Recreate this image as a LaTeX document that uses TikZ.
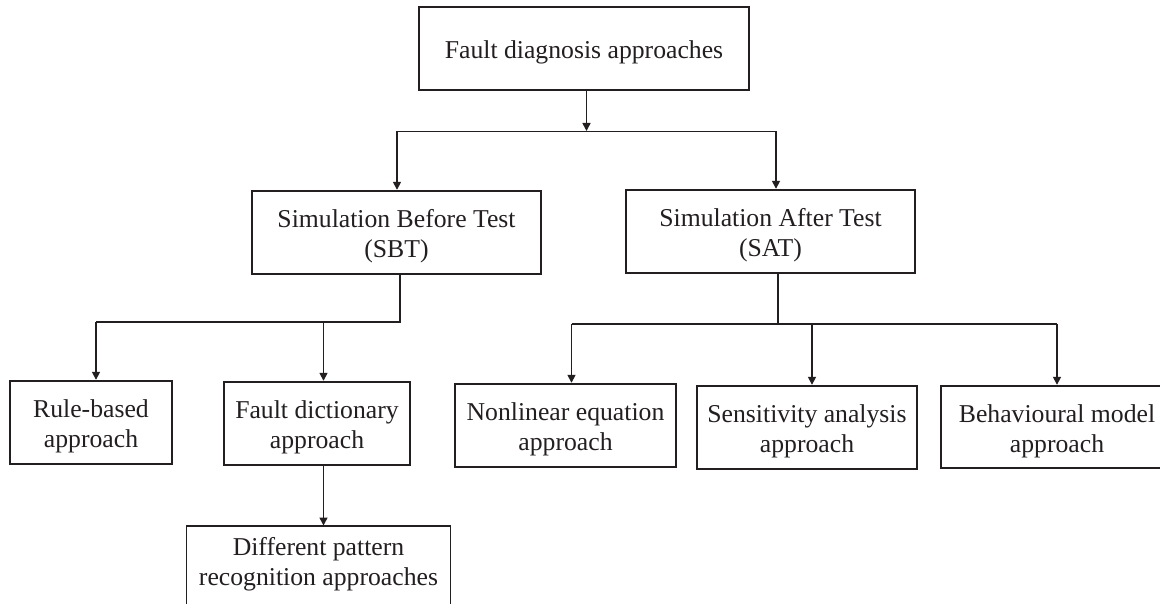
\documentclass[tikz,border=0pt]{standalone}
\usepackage{fontspec}
\setmainfont{Liberation Serif}
\usetikzlibrary{arrows.meta}
\definecolor{ink}{RGB}{35,31,32}
\newcommand{\boxtxt}[1]{\raisebox{-4pt}[\height][\depth]{\begin{tabular}{@{}c@{}}#1\end{tabular}}}
\begin{document}
\begin{tikzpicture}[x=1pt,y=-1pt,
  every node/.style={font=\fontsize{25.7}{30}\selectfont, text=ink},
  cbox/.style={draw=ink, line width=1.4pt, inner sep=0pt, align=center},
  conn/.style={draw=ink, line width=1.6pt},
  arr/.style={conn, -{Triangle[length=8pt,width=8pt]}, shorten >=0.5pt}]
\useasboundingbox (0,0) rectangle (1160,604);
\clip (0,0) rectangle (1160,604);
\fill[white] (0,0) rectangle (1160,604);
% boxes: centre x = (l+r)/2, y = (t+b)/2
\node[cbox, minimum width=330, minimum height=83] (top) at (584,48.5) {\boxtxt{Fault diagnosis approaches}};
\node[cbox, minimum width=289, minimum height=83] (sbt) at (396.5,232.5) {\boxtxt{Simulation Before Test\\(SBT)}};
\node[cbox, minimum width=289, minimum height=83] (sat) at (770.5,231.5) {\boxtxt{Simulation After Test\\(SAT)}};
\node[cbox, minimum width=162, minimum height=83] (rule) at (91,422.5) {\boxtxt{Rule-based\\approach}};
\node[cbox, minimum width=186, minimum height=83] (dict) at (317,423.5) {\boxtxt{Fault dictionary\\approach}};
\node[cbox, minimum width=221, minimum height=83] (nonlin) at (565.5,425.5) {\boxtxt{Nonlinear equation\\approach}};
\node[cbox, minimum width=220, minimum height=83] (sens) at (807,427.5) {\boxtxt{Sensitivity analysis\\approach}};
\node[cbox, minimum width=232, minimum height=82] (behav) at (1057,427) {\boxtxt{Behavioural model\\approach}};
% pattern box (runs below the lower edge of the picture)
\node[cbox, draw=none, minimum width=263, anchor=north, inner ysep=4pt] (pattern) at (318.5,526) {\boxtxt{Different pattern\\recognition approaches}};
\draw[draw=ink, line width=1.4pt] (pattern.north west) -- (pattern.north east) -- ++(0,120) (pattern.north west) -- ++(0,120);
% junction coordinates
\coordinate (j1) at (586.5,131.5);
\coordinate (jl) at (397,131.5);
\coordinate (jr) at (776,131.5);
\coordinate (j2) at (400,322);
\coordinate (j2l) at (96,322);
\coordinate (j2r) at (323.5,322);
\coordinate (j3) at (778,324);
\coordinate (j3l) at (571.5,324);
\coordinate (j3m) at (812,324);
\coordinate (j3r) at (1057,324);
% level 1
\draw[arr] (top.south -| j1) -- (j1);
\draw[conn] (jl) -- (jr);
\draw[arr] (jl) -- (jl |- sbt.north);
\draw[arr] (jr) -- (jr |- sat.north);
% SBT branch
\draw[conn] (sbt.south -| j2) -- (j2) -- (j2l);
\draw[arr] (j2l) -- (j2l |- rule.north);
\draw[arr] (j2r) -- (j2r |- dict.north);
\draw[arr] (dict.south -| j2r) -- (j2r |- pattern.north);
% SAT branch
\draw[conn] (sat.south -| j3) -- (j3);
\draw[conn] (j3l) -- (j3r);
\draw[arr] (j3l) -- (j3l |- nonlin.north);
\draw[arr] (j3m) -- (j3m |- sens.north);
\draw[arr] (j3r) -- (j3r |- behav.north);
\end{tikzpicture}
\end{document}
